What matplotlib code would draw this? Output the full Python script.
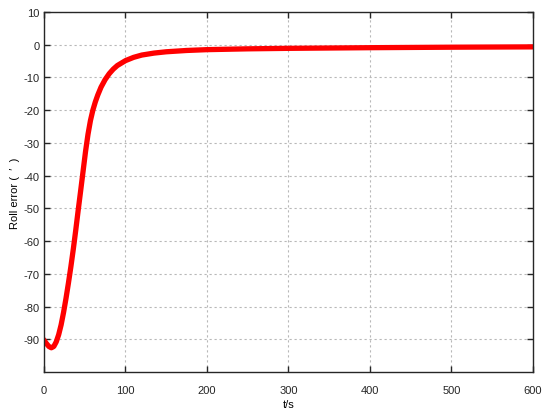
import numpy as np
import matplotlib.pyplot as plt

plt.rcParams['font.family'] = ['Liberation Sans', 'DejaVu Sans']
plt.rcParams['axes.unicode_minus'] = False

# 读图得到的数据
t = [0, 3, 6, 9, 12, 15, 18, 21, 24, 27, 30, 33, 36, 39, 42, 45, 48, 51, 54, 57,
     60, 63, 66, 70, 75, 80, 85, 90, 100, 110, 120, 135, 150, 175, 200, 250, 300,
     400, 500, 600]
roll_err = [-90.3, -91.3, -92.2, -92.6, -92.2, -90.8, -88.6, -85.6, -81.8, -77.5,
            -72.8, -67.8, -62.4, -56.6, -50.5, -44.6, -38.6, -32.6, -27.4, -23.2,
            -20.0, -17.5, -15.4, -13.0, -10.7, -8.9, -7.5, -6.4, -4.9, -3.9, -3.2,
            -2.6, -2.2, -1.8, -1.55, -1.3, -1.15, -0.95, -0.8, -0.7]

xticks = [0, 100, 200, 300, 400, 500, 600]
yticks = list(range(-90, 11, 10))

fig = plt.figure(figsize=(5.5, 4.14), dpi=100)
ax = fig.add_axes([0.08, 0.099, 0.889, 0.87])
ax.plot(t, roll_err, color='red', linewidth=3.8, solid_joinstyle='round')

ax.set_xlim(0, 600)
ax.set_ylim(-100, 10)
ax.set_xticks(xticks)
ax.set_yticks(yticks)
ax.grid(True, linestyle=(0, (2, 2.5)), color='#b8b8b8', linewidth=0.8)
ax.tick_params(direction='in', length=4.5, width=1, top=True, right=True,
               labelsize=8, colors='#262626')
ax.tick_params(axis='x', pad=9)
ax.tick_params(axis='y', pad=3)
for s in ax.spines.values():
    s.set_color('#262626')
    s.set_linewidth(1)

ax.set_xlabel('t/s', fontsize=8, labelpad=3)
ax.set_ylabel('Roll error (  \u2032  )', fontsize=8, labelpad=3)

plt.savefig('out.png', dpi=100)
